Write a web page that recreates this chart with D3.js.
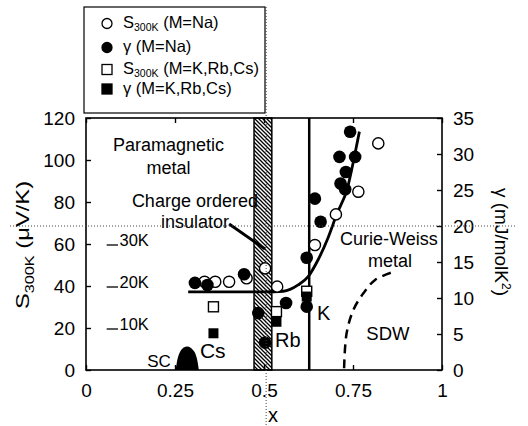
<!DOCTYPE html>
<html>
<head>
<meta charset="utf-8">
<script src="https://cdn.jsdelivr.net/npm/d3@7"></script>
<style>
body { margin: 0; background: #fff; }
svg text { font-family: "Liberation Sans", Arial, sans-serif; fill: #000; }
</style>
</head>
<body>
<div id="chart"></div>
<script>
// S300K, M=Na (open circles, left axis)
var naSX = [0.333, 0.363, 0.402, 0.451, 0.503, 0.537, 0.643, 0.702, 0.765, 0.821];
var naSY = [42, 42, 42, 43.7, 48.4, 39.7, 59.5, 74.1, 84.9, 107.9];
// gamma, M=Na (filled circles, right axis)
var naGX = [0.306, 0.341, 0.444, 0.484, 0.503, 0.562, 0.620, 0.620, 0.643, 0.659, 0.712, 0.715, 0.728, 0.730, 0.742, 0.756];
var naGY = [12.1, 11.8, 13.3, 7.9, 3.8, 9.3, 8.8, 15.6, 23.8, 20.6, 29.6, 25.9, 25.1, 27.5, 33.1, 29.6];
// M=K,Rb,Cs (squares)
var alkNames = ["Cs", "Rb", "K"];
var alkX = [0.358, 0.535, 0.620];
var alkS = [30.1, 27.8, 37.5];
var alkG = [5.1, 6.7, 10.2];
// guide line through S300K
var fitX = [0.287, 0.50, 0.554, 0.596, 0.624, 0.652, 0.680, 0.704, 0.735, 0.752, 0.768];
var fitY = [37.2, 37.2, 37.5, 40.5, 44.5, 52.5, 63, 74, 87, 100, 113.5];
// SC dome and SDW boundary, in K
var scX = [0.252, 0.258, 0.266, 0.276, 0.284, 0.294, 0.304, 0.311, 0.317];
var scT = [0, 2.9, 4.6, 5.4, 5.6, 5.3, 4.4, 2.9, 0];
var sdwX = [0.725, 0.732, 0.751, 0.779, 0.812, 0.859];
var sdwT = [0.4, 8.75, 14.3, 18.25, 21.45, 23.25];
var tempTicks = [10, 20, 30];
// axes
var xTicks = [0, 0.25, 0.5, 0.75, 1];
var sTicks = [0, 20, 40, 60, 80, 100, 120];
var gTicks = [0, 5, 10, 15, 20, 25, 30, 35];
// regions
var coBand = [0.472, 0.522];
var kLineX = 0.627;
var arrowX = [0.402, 0.503], arrowS = [69.5, 57.6];
var dotGamma = 20, dotX = 0.506;

var margin = {top: 118, right: 86, bottom: 56, left: 86},
    width = 528 - margin.left - margin.right,
    height = 426 - margin.top - margin.bottom;

var svg = d3.select("#chart").append("svg")
  .attr("width", 528)
  .attr("height", 426);

var defs = svg.append("defs");
var pat = defs.append("pattern")
  .attr("id", "hatch")
  .attr("patternUnits", "userSpaceOnUse")
  .attr("width", 4).attr("height", 4);
pat.append("rect").attr("width", 4).attr("height", 4).attr("fill", "#fff");
pat.append("path")
  .attr("d", "M0,0L4,4M-1,3L1,5M3,-1L5,1")
  .attr("stroke", "#000").attr("stroke-width", 1.3);

var g = svg.append("g")
  .attr("transform", `translate(${margin.left}, ${margin.top})`);

var x = d3.scaleLinear().domain([0, 1]).range([0, width]);
var yS = d3.scaleLinear().domain([0, 120]).range([height, 0]);
var yG = d3.scaleLinear().domain([0, 35]).range([height, 0]);
var yT = d3.scaleLinear().domain([0, 60]).range([height, 0]);

// dotted guide lines
svg.append("line")
  .attr("x1", 10).attr("x2", 517)
  .attr("y1", margin.top + yG(dotGamma)).attr("y2", margin.top + yG(dotGamma))
  .attr("stroke", "#444").attr("stroke-width", 1).attr("stroke-dasharray", "1,2");

// legend
var leg = svg.append("g");
leg.append("rect")
  .attr("x", 84).attr("y", 7).attr("width", 181).attr("height", 106)
  .attr("fill", "#fff").attr("stroke", "#000").attr("stroke-width", 1.2);

// hatched charge ordered band
g.append("rect")
  .attr("x", x(coBand[0])).attr("y", 0)
  .attr("width", x(coBand[1]) - x(coBand[0])).attr("height", height)
  .attr("fill", "url(#hatch)").attr("stroke", "#000").attr("stroke-width", 1.5);

svg.append("line")
  .attr("x1", margin.left + x(dotX)).attr("x2", margin.left + x(dotX))
  .attr("y1", 7).attr("y2", 426)
  .attr("stroke", "#444").attr("stroke-width", 1).attr("stroke-dasharray", "1,2");

// K boundary
g.append("line")
  .attr("x1", x(kLineX)).attr("x2", x(kLineX))
  .attr("y1", 0).attr("y2", height)
  .attr("stroke", "#000").attr("stroke-width", 2.5);

// SC dome
var dome = d3.area()
  .x((d, i) => x(scX[i]))
  .y0(height)
  .y1((d, i) => yT(d))
  .curve(d3.curveCatmullRom);
g.append("path").datum(scT).attr("d", dome).attr("fill", "#000");

// SDW boundary
var sdwLine = d3.line()
  .x((d, i) => x(sdwX[i]))
  .y(d => yT(d))
  .curve(d3.curveCatmullRom);
g.append("path").datum(sdwT).attr("d", sdwLine)
  .attr("fill", "none").attr("stroke", "#000").attr("stroke-width", 2.5)
  .attr("stroke-dasharray", "9,6");

// arrow to band
g.append("line")
  .attr("x1", x(arrowX[0])).attr("y1", yS(arrowS[0]))
  .attr("x2", x(arrowX[1])).attr("y2", yS(arrowS[1]))
  .attr("stroke", "#000").attr("stroke-width", 3);

// guide line
var fitLine = d3.line()
  .x((d, i) => x(fitX[i]))
  .y(d => yS(d))
  .curve(d3.curveMonotoneX);
g.append("path").datum(fitY).attr("d", fitLine)
  .attr("fill", "none").attr("stroke", "#000").attr("stroke-width", 2.8);

// temperature markers
tempTicks.forEach(function(t) {
  g.append("line")
    .attr("x1", x(0.058)).attr("x2", x(0.090))
    .attr("y1", yT(t) + 1).attr("y2", yT(t) + 1)
    .attr("stroke", "#000").attr("stroke-width", 1.3);
  g.append("text")
    .attr("x", x(0.094)).attr("y", yT(t) + 2)
    .attr("font-size", 16.5)
    .text(t + "K");
});

// points
g.selectAll(".na-s").data(naSY).enter().append("circle")
  .attr("cx", (d, i) => x(naSX[i])).attr("cy", d => yS(d))
  .attr("r", 5.6).attr("fill", "#fff").attr("stroke", "#000").attr("stroke-width", 1.4);
g.selectAll(".alk-s").data(alkS).enter().append("rect")
  .attr("x", (d, i) => x(alkX[i]) - 5).attr("y", d => yS(d) - 5)
  .attr("width", 10).attr("height", 10)
  .attr("fill", "#fff").attr("stroke", "#000").attr("stroke-width", 1.4);
g.selectAll(".alk-g").data(alkG).enter().append("rect")
  .attr("x", (d, i) => x(alkX[i]) - 5).attr("y", d => yG(d) - 5)
  .attr("width", 10).attr("height", 10).attr("fill", "#000");
g.selectAll(".na-g").data(naGY).enter().append("circle")
  .attr("cx", (d, i) => x(naGX[i])).attr("cy", d => yG(d))
  .attr("r", 6.3).attr("fill", "#000");

// frame and axes
g.append("rect").attr("width", width).attr("height", height)
  .attr("fill", "none").attr("stroke", "#000").attr("stroke-width", 1.6);

var bottomAxis = d3.axisBottom(x).tickValues(xTicks).tickSize(-5).tickSizeOuter(0).tickPadding(14)
  .tickFormat(d => String(d));
var topAxis = d3.axisTop(x).tickValues(xTicks).tickSize(-5).tickSizeOuter(0).tickFormat("");
var leftAxis = d3.axisLeft(yS).tickValues(sTicks).tickSize(-5).tickSizeOuter(0).tickPadding(11);
var rightAxis = d3.axisRight(yG).tickValues(gTicks).tickSize(-5).tickSizeOuter(0).tickPadding(11);

[[bottomAxis, `translate(0, ${height})`], [topAxis, "translate(0,0)"],
 [leftAxis, "translate(0,0)"], [rightAxis, `translate(${width}, 0)`]].forEach(function(a) {
  var ax = g.append("g").attr("transform", a[1]).call(a[0]);
  ax.select(".domain").remove();
  ax.selectAll("line").attr("stroke-width", 1.4);
  ax.selectAll("text").attr("font-size", 19).attr("font-family", "Liberation Sans, Arial, sans-serif");
});

// axis titles
var sTitle = svg.append("text")
  .attr("transform", "translate(29, 245) rotate(-90) scale(1.25, 1)")
  .attr("text-anchor", "middle").attr("font-size", 19);
sTitle.append("tspan").text("S");
sTitle.append("tspan").attr("font-size", 13).attr("dy", 5).text("300K");
sTitle.append("tspan").attr("dy", -5).text(" (\u03bcV/K)");

var gTitle = svg.append("text")
  .attr("transform", "translate(495, 242) rotate(90)")
  .attr("text-anchor", "middle").attr("font-size", 19);
gTitle.append("tspan").text("\u03b3 (mJ/molK");
gTitle.append("tspan").attr("font-size", 12).attr("dy", -7).text("2");
gTitle.append("tspan").attr("dy", 7).text(")");

svg.append("text").attr("x", 273).attr("y", 422).attr("text-anchor", "middle")
  .attr("font-size", 20).text("x");

// region labels
var labels = [
  ["Paramagnetic", 0.232, 104.3, "middle", 18],
  ["metal", 0.232, 93.3, "middle", 18],
  ["Charge ordered", 0.306, 77.6, "middle", 18],
  ["insulator", 0.306, 67.6, "middle", 18],
  ["Curie-Weiss", 0.851, 59.5, "middle", 18],
  ["metal", 0.854, 49, "middle", 18],
  ["SDW", 0.848, 14.3, "middle", 18.5],
  ["K", 0.649, 23.8, "start", 20],
  ["Rb", 0.531, 11, "start", 20],
  ["Cs", 0.320, 5.7, "start", 21],
  ["SC", 0.172, 1.4, "start", 17]
];
labels.forEach(function(l) {
  g.append("text")
    .attr("x", x(l[1])).attr("y", yS(l[2]))
    .attr("text-anchor", l[3]).attr("font-size", l[4])
    .text(l[0]);
});

// legend entries
var legRows = [
  {y: 23.5, sym: "circle", fill: "#fff", main: "S", sub: "300K", rest: " (M=Na)"},
  {y: 47.5, sym: "circle", fill: "#000", main: "\u03b3 (M=Na)", sub: "", rest: ""},
  {y: 69.5, sym: "square", fill: "#fff", main: "S", sub: "300K", rest: " (M=K,Rb,Cs)"},
  {y: 89, sym: "square", fill: "#000", main: "\u03b3 (M=K,Rb,Cs)", sub: "", rest: ""}
];
legRows.forEach(function(r) {
  if (r.sym === "circle") {
    leg.append("circle").attr("cx", 107).attr("cy", r.y).attr("r", 5)
      .attr("fill", r.fill).attr("stroke", "#000").attr("stroke-width", 1.3);
  } else {
    leg.append("rect").attr("x", 102).attr("y", r.y - 5).attr("width", 10).attr("height", 10)
      .attr("fill", r.fill).attr("stroke", "#000").attr("stroke-width", 1.3);
  }
  var t = leg.append("text").attr("x", 123).attr("y", r.y + 4.5).attr("font-size", 16.5);
  t.append("tspan").text(r.main);
  if (r.sub) {
    t.append("tspan").attr("font-size", 10.5).attr("dy", 3).text(r.sub);
    t.append("tspan").attr("dy", -3).text(r.rest);
  }
});
</script>
</body>
</html>
